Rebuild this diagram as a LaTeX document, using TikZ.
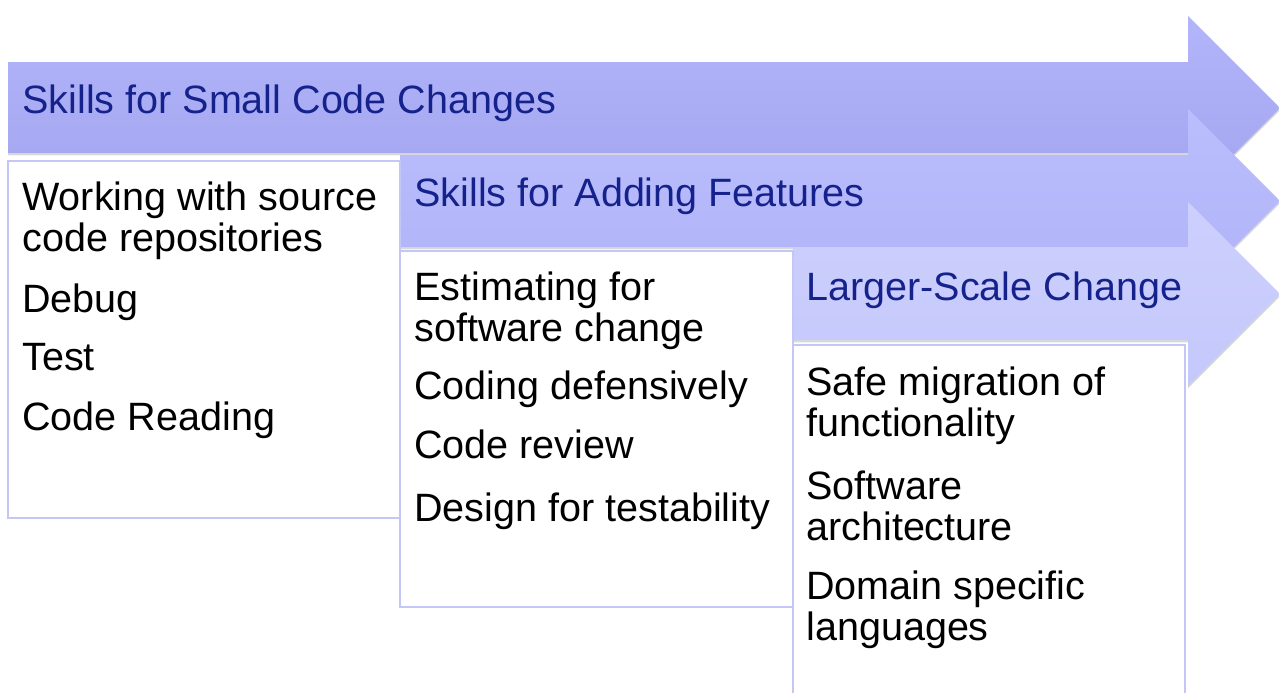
\documentclass[tikz,border=0pt]{standalone}
\usepackage{fontspec}
\setmainfont{Liberation Sans}
\usetikzlibrary{shadows}
\definecolor{titleblue}{RGB}{22,34,140}
\definecolor{boxline}{RGB}{196,199,246}
\definecolor{arrowAtop}{RGB}{178,181,250}
\definecolor{arrowAbot}{RGB}{162,165,238}
\definecolor{arrowBtop}{RGB}{186,190,253}
\definecolor{arrowBbot}{RGB}{176,180,248}
\definecolor{arrowCtop}{RGB}{205,208,253}
\definecolor{arrowCbot}{RGB}{196,200,251}

\begin{document}
\begin{tikzpicture}[x=0.02cm,y=-0.02cm]
    \tikzstyle{skillarrow}=[drop shadow={shadow xshift=0pt,shadow yshift=-1.3pt,opacity=0.3}]
    \tikzstyle{skillbox}=[draw=boxline,line width=0.7pt,fill=white]
    \tikzstyle{heading}=[anchor=base west,inner sep=0pt,text=titleblue,font=\fontsize{22.5}{23.3}\selectfont]
    \tikzstyle{item}=[anchor=base west,inner sep=0pt,align=left,font=\fontsize{22.5}{23.3}\selectfont]
    \useasboundingbox (0,0) rectangle (1279,693);
    \path[skillarrow,top color=arrowAtop,bottom color=arrowAbot] (8,62) -- (1188,62) -- (1188,16) -- (1280,108) -- (1188,200) -- (1188,153) -- (8,153) -- cycle;
    \path[skillarrow,top color=arrowBtop,bottom color=arrowBbot] (400,155) -- (1188,155) -- (1188,109) -- (1280,201) -- (1188,293) -- (1188,247) -- (400,247) -- cycle;
    \path[skillarrow,top color=arrowCtop,bottom color=arrowCbot] (793,247) -- (1188,247) -- (1188,202) -- (1280,294) -- (1188,386) -- (1188,340) -- (793,340) -- cycle;
    \draw[skillbox] (8,161) rectangle (400,518);
    \draw[skillbox] (400,251) rectangle (793,607);
    \draw[skillbox] (793,345) rectangle (1185,710);
    \node[heading] (small) at (22,113) {Skills for Small Code Changes};
    \node[heading] (adding) at (414,206) {Skills for Adding Features};
    \node[heading] (larger) at (806,300) {Larger-Scale Change};
    \node[item] (repos) at (22,251) {Working with source\\code repositories};
    \node[item] (debug) at (22,312) {Debug};
    \node[item] (test) at (22,370) {Test};
    \node[item] (reading) at (22,430) {Code Reading};
    \node[item] (estimate) at (414,341) {Estimating for\\software change};
    \node[item] (defensive) at (414,399) {Coding defensively};
    \node[item] (review) at (414,458) {Code review};
    \node[item] (testability) at (414,521) {Design for testability};
    \node[item] (migration) at (806,436) {Safe migration of\\functionality};
    \node[item] (architecture) at (806,540) {Software\\architecture};
    \node[item] (domain) at (806,640) {Domain specific\\languages};
\end{tikzpicture}
\end{document}
